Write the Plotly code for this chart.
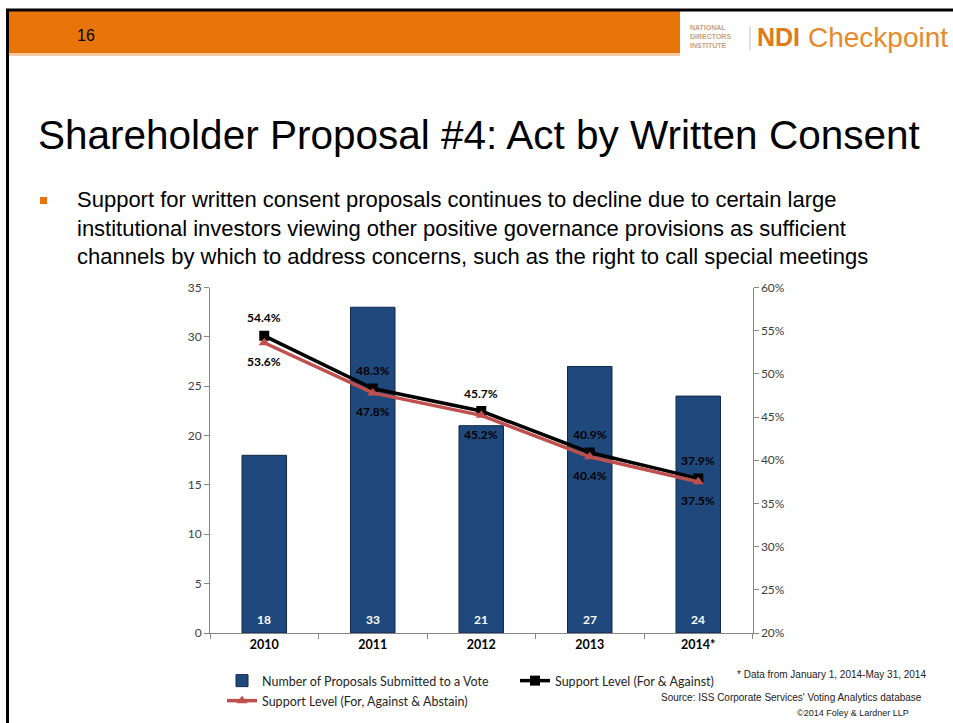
import plotly.graph_objects as go

# ---- data ----
years = ["2010", "2011", "2012", "2013", "2014*"]
proposals = [18, 33, 21, 27, 24]
support_for_against = [0.544, 0.483, 0.457, 0.409, 0.379]
support_with_abstain = [0.536, 0.478, 0.452, 0.404, 0.375]

W, H = 953, 723


def px(x):
    return x / W


def py(y):
    return 1 - y / H


CHART_FONT = "Lato, Carlito, Calibri, sans-serif"
SLIDE_FONT = "Liberation Sans Narrow, Arial Narrow, Liberation Sans, Arial, sans-serif"
ORANGE = "#E8750A"
NAVY = "#1F497D"
RED = "#C0504D"
AXIS_GREY = "#868686"

fig = go.Figure()

fig.add_trace(go.Bar(
    x=years, y=proposals,
    name="Number of Proposals Submitted to a Vote",
    marker=dict(color=NAVY, line=dict(color="#10284a", width=1)),
    yaxis="y", legend="legend",
))
fig.add_trace(go.Scatter(
    x=years, y=support_for_against,
    name="Support Level (For & Against)",
    mode="lines+markers",
    line=dict(color="black", width=3.5),
    marker=dict(symbol="square", size=10, color="black"),
    yaxis="y2", legend="legend",
))
fig.add_trace(go.Scatter(
    x=years, y=support_with_abstain,
    name="Support Level (For, Against & Abstain)",
    mode="lines+markers",
    line=dict(color=RED, width=3.5),
    marker=dict(symbol="triangle-up", size=10, color=RED),
    yaxis="y2", legend="legend2",
))

annotations = []
# value labels (category axis positions given by index)
for i, n in enumerate(proposals):
    annotations.append(dict(x=i, y=0, xref="x", yref="y", yshift=14, text=f"<b>{n}</b>",
                            showarrow=False, font=dict(family=CHART_FONT, size=12, color="white")))
for i, v in enumerate(support_for_against):
    annotations.append(dict(x=i, y=v, xref="x", yref="y2", yshift=18, text=f"<b>{v*100:.1f}%</b>",
                            showarrow=False, font=dict(family=CHART_FONT, size=12, color="black")))
for i, v in enumerate(support_with_abstain):
    annotations.append(dict(x=i, y=v, xref="x", yref="y2", yshift=-19, text=f"<b>{v*100:.1f}%</b>",
                            showarrow=False, font=dict(family=CHART_FONT, size=12, color="black")))

# slide text
annotations += [
    dict(x=px(75), y=py(35), xref="paper", yref="paper", xanchor="left", yanchor="middle",
         text="16", showarrow=False, font=dict(family="Liberation Sans, Arial", size=16, color="black")),
    dict(x=px(36), y=py(135), xref="paper", yref="paper", xanchor="left", yanchor="middle",
         text="Shareholder Proposal #4: Act by Written Consent", showarrow=False,
         font=dict(family=SLIDE_FONT, size=40.5, color="black")),
    dict(x=px(75), y=py(228), xref="paper", yref="paper", xanchor="left", yanchor="middle", align="left",
         text=("Support for written consent proposals continues to decline due to certain large<br>"
               "institutional investors viewing other positive governance provisions as sufficient<br>"
               "channels by which to address concerns, such as the right to call special meetings"),
         showarrow=False, font=dict(family=SLIDE_FONT, size=22, color="black")),
    dict(x=px(928), y=py(674), xref="paper", yref="paper", xanchor="right", yanchor="middle",
         text="* Data from January 1, 2014-May 31, 2014", showarrow=False,
         font=dict(family="Liberation Sans, Arial", size=10, color="#222222")),
    dict(x=px(924), y=py(697), xref="paper", yref="paper", xanchor="right", yanchor="middle",
         text="Source: ISS Corporate Services' Voting Analytics database", showarrow=False,
         font=dict(family="Liberation Sans, Arial", size=10, color="#222222")),
    dict(x=px(911), y=py(713), xref="paper", yref="paper", xanchor="right", yanchor="middle",
         text="©2014 Foley & Lardner LLP", showarrow=False,
         font=dict(family="Liberation Sans, Arial", size=9, color="#222222")),
    # logo
    dict(x=px(688), y=py(36), xref="paper", yref="paper", xanchor="left", yanchor="middle", align="left",
         text="<b>NATIONAL<br>DIRECTORS<br>INSTITUTE</b>", showarrow=False,
         font=dict(family=SLIDE_FONT, size=7, color="#C9A27C")),
    dict(x=px(755), y=py(37), xref="paper", yref="paper", xanchor="left", yanchor="middle",
         text="<b>NDI</b>", showarrow=False,
         font=dict(family=SLIDE_FONT, size=25, color="#E07A1A")),
    dict(x=px(806), y=py(37), xref="paper", yref="paper", xanchor="left", yanchor="middle",
         text="Checkpoint", showarrow=False,
         font=dict(family=SLIDE_FONT, size=28, color="#E8892B")),
]

shapes = [
    # header band
    dict(type="rect", xref="paper", yref="paper", x0=px(8), x1=px(680), y0=py(53), y1=py(11),
         fillcolor=ORANGE, line=dict(width=0), layer="below"),
    dict(type="rect", xref="paper", yref="paper", x0=px(8), x1=px(680), y0=py(56), y1=py(53),
         fillcolor="#F6C9A0", line=dict(width=0), layer="below"),
    # slide border
    dict(type="line", xref="paper", yref="paper", x0=px(6), x1=px(953), y0=py(10), y1=py(10),
         line=dict(color="black", width=3)),
    dict(type="line", xref="paper", yref="paper", x0=px(7.5), x1=px(7.5), y0=py(9), y1=py(723),
         line=dict(color="black", width=3)),
    # logo separator
    dict(type="line", xref="paper", yref="paper", x0=px(750), x1=px(750), y0=py(26), y1=py(50),
         line=dict(color="#C0C0C0", width=1)),
    # bullet
    dict(type="rect", xref="paper", yref="paper", x0=px(40), x1=px(47), y0=py(204), y1=py(197),
         fillcolor=ORANGE, line=dict(width=0)),
]

axis_common = dict(showgrid=False, zeroline=False, showline=True, linecolor=AXIS_GREY, linewidth=1,
                   ticks="outside", ticklen=5, tickcolor=AXIS_GREY)

fig.update_layout(
    width=W, height=H,
    margin=dict(l=0, r=0, t=0, b=0, autoexpand=False),
    paper_bgcolor="white", plot_bgcolor="white",
    bargap=0.59,
    showlegend=True,
    xaxis=dict(domain=[px(210), px(752.5)], type="category", tickson="boundaries",
               range=[-0.5, len(years) - 0.5],
               tickfont=dict(family=CHART_FONT, size=12.5, color="black"),
               tickvals=years, ticktext=[f"<b>{y}</b>" for y in years], **axis_common),
    yaxis=dict(domain=[py(633), py(287.5)], range=[0, 35], dtick=5,
               tickfont=dict(family=CHART_FONT, size=12, color="#404040"), **axis_common),
    yaxis2=dict(overlaying="y", side="right", anchor="x", range=[0.20, 0.60], dtick=0.05,
                tickformat=".0%", tickfont=dict(family=CHART_FONT, size=12, color="#404040"),
                **axis_common),
    legend=dict(orientation="h", x=px(222), y=py(681), xanchor="left", yanchor="middle",
                entrywidth=248, entrywidthmode="pixels", itemwidth=30, bgcolor="rgba(0,0,0,0)",
                font=dict(family=CHART_FONT, size=12.5, color="#262626")),
    legend2=dict(orientation="h", x=px(222), y=py(701), xanchor="left", yanchor="middle",
                 itemwidth=30, bgcolor="rgba(0,0,0,0)",
                 font=dict(family=CHART_FONT, size=12.5, color="#262626")),
    annotations=annotations,
    shapes=shapes,
)

fig.write_html("out.html")
